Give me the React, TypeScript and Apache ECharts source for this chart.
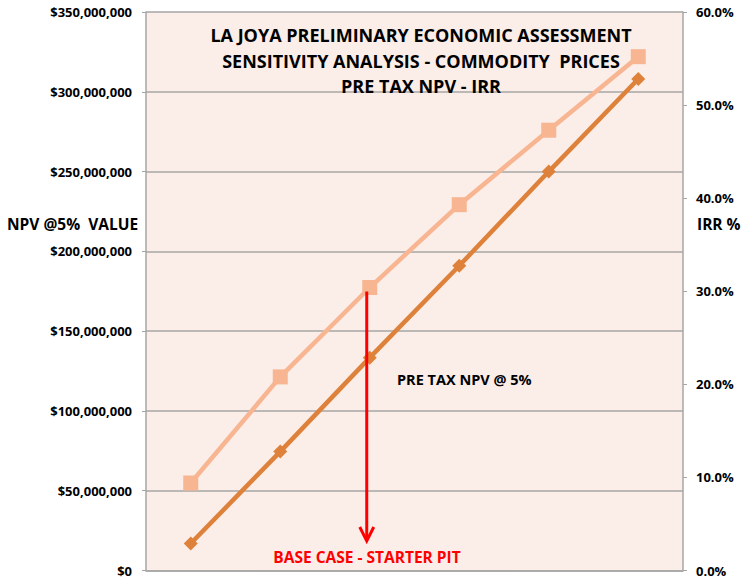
import React, { useEffect, useRef } from "react";
import * as echarts from "echarts";

const categories = ["-20%", "-10%", "Base", "+10%", "+20%", "+30%"];
const npvValues = [16900000, 74500000, 133400000, 191000000, 250000000, 308000000];
const irrValues = [9.4, 20.8, 30.4, 39.3, 47.3, 55.2];
const titleLines = [
  "LA JOYA PRELIMINARY ECONOMIC ASSESSMENT",
  "SENSITIVITY ANALYSIS - COMMODITY  PRICES",
  "PRE TAX NPV - IRR",
];
const baseIndex = 2;

const FONT = "'Open Sans', Lato, sans-serif";

function fmtMoney(v: number) {
  return "$" + Math.round(v).toLocaleString("en-US");
}

export default function App() {
  const ref = useRef<HTMLDivElement>(null);
  useEffect(() => {
    if (!ref.current) return;
    const chart = echarts.init(ref.current, undefined, { renderer: "svg" });
    const grid = { left: 146, right: 61, top: 12, bottom: 6 };
    chart.setOption({
      animation: false,
      backgroundColor: "#ffffff",
      textStyle: { fontFamily: FONT },
      grid: { ...grid, backgroundColor: "#FBEDE8", show: true, borderWidth: 0 },
      xAxis: {
        type: "category",
        data: categories,
        boundaryGap: true,
        axisLine: { show: true, lineStyle: { color: "#A6A6A6", width: 1.5 } },
        axisTick: { show: false },
        axisLabel: { show: false },
        splitLine: { show: false },
      },
      yAxis: [
        {
          type: "value",
          min: 0,
          max: 350000000,
          interval: 50000000,
          position: "left",
          axisLine: { show: true, lineStyle: { color: "#A6A6A6", width: 1.5 } },
          axisTick: { show: true, length: 4, inside: false, lineStyle: { color: "#A6A6A6" } },
          axisLabel: {
            formatter: (v: number) => fmtMoney(v),
            color: "#000",
            fontWeight: "bold",
            fontSize: 13,
            lineHeight: 11,
            fontFamily: FONT,
            margin: 14,
          },
          splitLine: { show: true, lineStyle: { color: "#A6A6A6", width: 1.5 } },
        },
        {
          type: "value",
          min: 0,
          max: 60,
          interval: 10,
          position: "right",
          axisLine: { show: true, lineStyle: { color: "#A6A6A6", width: 1.5 } },
          axisTick: { show: true, length: 4, lineStyle: { color: "#A6A6A6" } },
          axisLabel: {
            formatter: (v: number) => v.toFixed(1) + "%",
            color: "#000",
            fontWeight: "bold",
            fontSize: 13,
            lineHeight: 11,
            fontFamily: FONT,
            margin: 13,
          },
          splitLine: { show: false },
        },
      ],
      series: [
        {
          name: "IRR",
          type: "line",
          yAxisIndex: 1,
          data: irrValues,
          symbol: "rect",
          symbolSize: 15,
          lineStyle: { color: "#F8B591", width: 4.5 },
          itemStyle: { color: "#F8B591" },
          z: 3,
        },
        {
          name: "Pre-tax NPV",
          type: "line",
          yAxisIndex: 0,
          data: npvValues,
          symbol: "diamond",
          symbolSize: 14,
          lineStyle: { color: "#DE823B", width: 4.5 },
          itemStyle: { color: "#DE823B" },
          z: 4,
        },
      ],
      graphic: [
        ...titleLines.map((t, i) => ({
          id: "title" + i,
          type: "text",
          x: 421,
          y: 35 + i * 25.5,
          style: {
            text: t,
            fontFamily: FONT,
            fontWeight: "bold",
            fontSize: 18,
            fill: "#000",
            align: "center",
            verticalAlign: "middle",
          },
          z: 10,
        })),
        {
          id: "leftName",
          type: "text",
          x: 7,
          y: 224,
          style: {
            text: "NPV @5%  VALUE",
            fontFamily: FONT,
            fontWeight: "bold",
            fontSize: 15.5,
            fill: "#000",
            align: "left",
            verticalAlign: "middle",
          },
        },
        {
          id: "rightName",
          type: "text",
          x: 697,
          y: 224,
          style: {
            text: "IRR %",
            fontFamily: FONT,
            fontWeight: "bold",
            fontSize: 15.5,
            fill: "#000",
            align: "left",
            verticalAlign: "middle",
          },
        },
        {
          id: "npvLabel",
          type: "text",
          x: 397,
          y: 379,
          style: {
            text: "PRE TAX NPV @ 5%",
            fontFamily: FONT,
            fontWeight: "bold",
            fontSize: 14.5,
            fill: "#000",
            align: "left",
            verticalAlign: "middle",
          },
          z: 10,
        },
        {
          id: "baseLabel",
          type: "text",
          x: 367,
          y: 557,
          style: {
            text: "BASE CASE - STARTER PIT",
            fontFamily: FONT,
            fontWeight: "bold",
            fontSize: 15.5,
            fill: "#FF0000",
            align: "center",
            verticalAlign: "middle",
          },
          z: 10,
        },
      ],
    });

    const top = chart.convertToPixel({ xAxisIndex: 0, yAxisIndex: 1 }, [baseIndex, irrValues[baseIndex]]) as number[];
    if (top) {
      const x = top[0] - 3;
      const y1 = top[1] + 4;
      const y2 = 541;
      chart.setOption({
        graphic: [
          {
            id: "arrowLine",
            type: "line",
            shape: { x1: x, y1, x2: x, y2: y2 - 1 },
            style: { stroke: "#FF0000", lineWidth: 3 },
            z: 20,
          },
          {
            id: "arrowHead",
            type: "polyline",
            shape: { points: [[x - 7, y2 - 14], [x, y2], [x + 7, y2 - 14]] },
            style: { stroke: "#FF0000", lineWidth: 3, fill: null },
            z: 20,
          },
        ],
      });
    }
    return () => chart.dispose();
  }, []);
  return (
    <div
      ref={ref}
      style={{ position: "fixed", left: 0, top: 0, width: 744, height: 577 }}
    />
  );
}
